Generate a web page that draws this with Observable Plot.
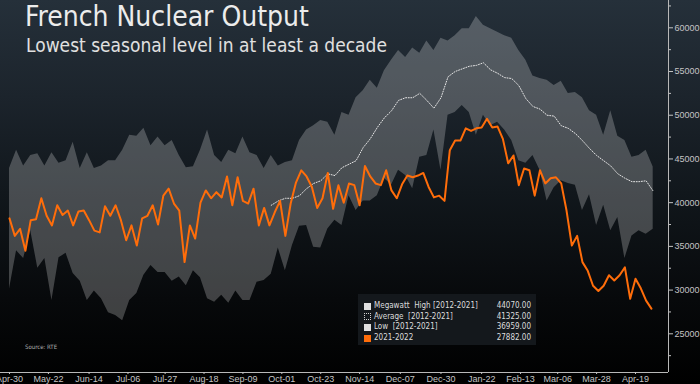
<!DOCTYPE html>
<html><head><meta charset="utf-8">
<script src="https://cdn.jsdelivr.net/npm/d3@7"></script>
<script src="https://cdn.jsdelivr.net/npm/@observablehq/plot@0.6"></script>
<style>
html,body{margin:0;padding:0;background:#000;}
#wrap{position:relative;width:700px;height:384px;overflow:hidden;
  background:linear-gradient(180deg,#25303a 0%,#1c242c 25%,#11171c 50%,#07090b 78%,#000 100%);
  font-family:"Liberation Sans",Arial,sans-serif;}
#chart{position:absolute;left:0;top:0;}
.cond{font-family:"DejaVu Sans Condensed","DejaVu Sans",sans-serif;font-stretch:condensed;}
#title{position:absolute;left:25px;top:2.5px;font-size:28px;line-height:28px;color:#ececec;white-space:nowrap;}
#subtitle{position:absolute;left:26px;top:35.5px;font-size:19px;line-height:19px;color:#e0e0e0;white-space:nowrap;}
#source{position:absolute;left:25px;top:344px;font-size:6px;line-height:6px;color:#b0b0b0;}
#legend{position:absolute;left:358px;top:294px;width:178px;height:51px;background:rgba(22,26,30,0.92);}
.row{position:absolute;left:6px;width:167px;height:10px;font-size:8px;line-height:10px;color:#dcdcdc;white-space:pre;}
.sw{position:absolute;left:0;top:1.5px;width:7px;height:7px;box-sizing:border-box;}
.lab{position:absolute;left:10px;top:0;}
.val{position:absolute;right:0;top:0;}
</style></head>
<body>
<div id="wrap">
  <div id="chart"></div>
  <div id="title" class="cond">French Nuclear Output</div>
  <div id="subtitle" class="cond">Lowest seasonal level in at least a decade</div>
  <div id="source" class="cond">Source: RTE</div>
  <div id="legend"></div>
</div>
<script>
// ---- data (MW), band series every 4 days from 2021-04-30, current every 3 days ----
const highValues = [43900,46000,44200,45400,45600,44200,45700,44500,44800,46900,
 43900,45700,43900,44200,44800,44800,46000,47700,47600,48500,
 46500,47500,46500,47100,45400,44000,44100,46000,48300,45400,
 44600,46000,45600,47500,45700,45400,43900,45400,44200,44600,
 44800,47100,48300,48800,49400,49200,47700,50300,50000,52000,
 52800,54000,53100,55100,56300,57400,56600,57700,57100,58500,
 57400,58800,58500,59100,59900,59900,61300,60300,59900,59500,
 59100,58800,57400,56300,54500,54200,54000,53400,53900,52500,
 52600,52000,50500,50000,47700,50500,47600,47100,45200,45400,
 46000,44070];
const lowValues = [30100,34500,33600,36800,32500,33600,28800,33700,34200,31900,
 31000,28800,29900,29000,27400,27100,26500,28800,29600,31700,
 32800,32000,32000,31000,31500,30500,32200,31400,29000,28600,
 29400,28500,29900,28800,28800,30900,31100,31800,34800,32200,
 35100,37300,37400,34900,34800,37000,38000,37400,40800,39100,
 40200,40200,40800,42800,42000,43700,43100,41600,45200,45400,
 48300,43700,50000,50300,51100,50300,47700,50000,48800,49200,
 48300,47100,44800,44500,45400,43700,40200,41700,42500,42200,
 42000,39100,40900,37400,39700,36800,38300,33600,36200,36800,
 36400,36959];
const avgOffset = 37; // average is shown from band point 37 onwards
const avgValues = [39700,40200,40500,40500,40800,41600,42200,42500,43300,43100,
 44000,44400,44800,46300,47300,48600,49700,50500,51700,52000,
 52000,52500,51700,50800,52000,54400,55000,55300,55600,55700,
 56000,55200,54800,54300,54200,53400,51900,51000,50700,50000,
 49900,48800,48500,47900,47100,46200,45400,44800,44200,43300,
 42800,42400,42400,42500,41325];
const currentValues = [38200,36200,37000,34500,38000,38100,40500,38500,37400,39700,
 38600,39100,37400,39000,39100,38000,36800,36600,39600,38500,
 39700,38000,35700,37400,35100,38200,38500,39700,37500,40800,
 41600,39900,39100,33200,37400,35900,40000,41400,40500,41200,
 40600,43000,39700,42900,40200,39900,41600,37400,39400,37400,
 38900,40200,36200,39900,42300,43700,43000,41800,39400,40500,
 43400,39300,42000,40000,42200,42000,39700,44200,43000,42200,
 42000,43700,41400,40500,42100,43100,42900,43100,43400,41800,
 40600,40800,40200,46000,47100,47100,48500,48200,48500,48600,
 49600,48600,48700,47300,44500,45400,42000,43900,43700,40800,
 43700,42200,42800,42900,42200,39100,35100,36200,33200,32200,
 30500,29900,30500,31700,31100,31700,32600,29000,31300,30200,
 28800,27882];
const tickDates = ["2021-04-30","2021-05-22","2021-06-14","2021-07-06","2021-07-27","2021-08-18",
 "2021-09-09","2021-10-01","2021-10-23","2021-11-14","2021-12-07","2021-12-30",
 "2022-01-22","2022-02-13","2022-03-06","2022-03-28","2022-04-19"];
const yMajorTicks = [25000,30000,35000,40000,45000,50000,55000,60000];
const yMinorTicks = [22500,27500,32500,37500,42500,47500,52500,57500,62500];
const legendLabels = ["Megawatt  High [2012-2021]","Average  [2012-2021]","Low  [2012-2021]","2021-2022"];
const legendValues = [44070,41325,36959,27882];

// ---- build tables ----
const DAY = 864e5;
const start = Date.UTC(2021,3,30);
const bandDates = highValues.map((_, i) => new Date(start + i*4*DAY));
const band = bandDates.map((d, i) => ({date: d, high: highValues[i], low: lowValues[i]}));
const avg = avgValues.map((v, i) => ({date: bandDates[avgOffset + i], value: v}));
const cur = currentValues.map((v, i) => ({date: new Date(start + i*3*DAY), value: v}));
const ticks = tickDates.map(s => new Date(s + "T00:00:00Z"));

// x domain: first tick 9px from left, last tick 33px before the right axis (668px)
const pxPerDay = (635 - 9) / ((ticks[ticks.length-1] - ticks[0]) / DAY);
const xDomain = [new Date(+ticks[0] - 9/pxPerDay*DAY), new Date(+ticks[ticks.length-1] + 33/pxPerDay*DAY)];
const yDomain = [20574, 63123];

const chart = Plot.plot({
  width: 700, height: 384,
  marginLeft: 0, marginRight: 32, marginTop: 0, marginBottom: 12,
  style: {background: "transparent", color: "#c4c4c4", fontSize: "9px", fontFamily: "'Liberation Sans', Arial, sans-serif"},
  x: {type: "utc", domain: xDomain, axis: null},
  y: {domain: yDomain, axis: null},
  marks: [
    Plot.areaY(band, {x: "date", y1: "low", y2: "high", fill: "#ffffff", fillOpacity: 0.23}),
    Plot.lineY(avg, {x: "date", y: "value", stroke: "#e6e6e6", strokeWidth: 1, strokeDasharray: "1,1.6"}),
    Plot.lineY(cur, {x: "date", y: "value", stroke: "#ff6d0a", strokeWidth: 2, strokeLinejoin: "round"}),
    Plot.ruleX([xDomain[1]], {stroke: "#b8b8b8", strokeWidth: 1}),
    Plot.ruleY([yDomain[0]], {stroke: "#b8b8b8", strokeWidth: 1}),
    Plot.axisX({ticks: ticks, tickFormat: d3.utcFormat("%b-%d"), tickSize: 2, tickPadding: 1, label: null}),
    Plot.axisY({anchor: "right", ticks: yMajorTicks, tickSize: 4, tickPadding: 2, tickFormat: d => String(d), label: null, textAnchor: "start"}),
    Plot.axisY({anchor: "right", ticks: yMinorTicks, tickSize: 2, tickFormat: () => "", label: null})
  ]
});
document.getElementById("chart").appendChild(chart);

// ---- legend ----
const lg = document.getElementById("legend");
const swatches = [
  "background:#e0e0e0;",
  "border:1px dotted #d0d0d0;background:transparent;",
  "background:#e0e0e0;",
  "background:#ff6d0a;"
];
legendLabels.forEach((lab, i) => {
  const row = document.createElement("div");
  row.className = "row cond";
  row.style.top = (7 + i*10.7) + "px";
  row.innerHTML = `<div class="sw" style="${swatches[i]}"></div><span class="lab"></span><span class="val"></span>`;
  row.querySelector(".lab").textContent = lab;
  row.querySelector(".val").textContent = legendValues[i].toFixed(2);
  lg.appendChild(row);
});
</script>
</body></html>
